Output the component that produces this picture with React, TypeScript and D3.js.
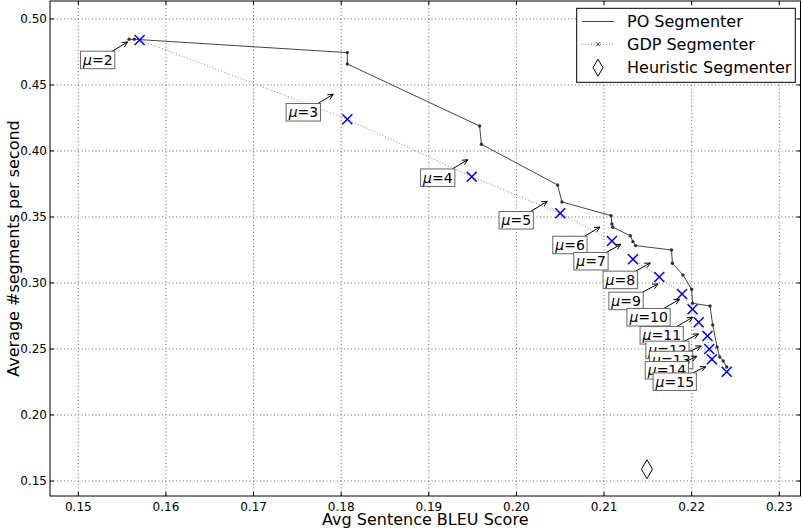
import React from "react";
import * as d3 from "d3";

// Series values
const poBleu = [0.1558, 0.1564, 0.1807, 0.1807, 0.1958, 0.196, 0.2047, 0.2052, 0.2108, 0.2109, 0.211, 0.213, 0.2133, 0.2136, 0.2177, 0.2178, 0.219, 0.22, 0.2201, 0.2221, 0.2224, 0.2229, 0.2232, 0.2236, 0.224];
const poRate = [0.4846, 0.4846, 0.4745, 0.4659, 0.4189, 0.4051, 0.3742, 0.3614, 0.351, 0.3447, 0.3422, 0.3358, 0.3313, 0.3283, 0.325, 0.3149, 0.3061, 0.2952, 0.2846, 0.2826, 0.2682, 0.2515, 0.2439, 0.2409, 0.2364];

const muValues = [2, 3, 4, 5, 6, 7, 8, 9, 10, 11, 12, 13, 14, 15];
const gdpBleu = [0.157, 0.1807, 0.1949, 0.205, 0.2109, 0.2133, 0.2163, 0.2189, 0.2201, 0.2208, 0.2218, 0.222, 0.2223, 0.224];
const gdpRate = [0.4841, 0.424, 0.3805, 0.3528, 0.3318, 0.318, 0.3046, 0.2917, 0.2801, 0.2702, 0.2599, 0.25, 0.2422, 0.2328];

const heuristicBleu = [0.2149];
const heuristicRate = [0.1589];

const xTicks = [0.15, 0.16, 0.17, 0.18, 0.19, 0.2, 0.21, 0.22, 0.23];
const yTicks = [0.15, 0.2, 0.25, 0.3, 0.35, 0.4, 0.45, 0.5];
const seriesNames = ["PO Segmenter", "GDP Segmenter", "Heuristic Segmenter"];
const xTitle = "Avg Sentence BLEU Score";
const yTitle = "Average #segments per second";

// Annotation placement (pixels, relative to each GDP point):
// [box centre dx, box centre dy, arrow tip dx, arrow tip dy]
const labelOffsets: [number, number, number, number][] = [
  [-42, 20, -12, 2],
  [-44, -7, -14, -25],
  [-34, 1, -4, -17],
  [-44, 7, -13, -12],
  [-42, 4, -12, -14],
  [-42, 2, -12, -15],
  [-39, 3, -9, -14],
  [-56, 7, -24, -10],
  [-44, 8, -13, -10],
  [-37, 13, -6, -5],
  [-40, 14, -9, -2],
  [-38, 11, -8, -3],
  [-45, 11, -15, -3],
  [-52, 10, -21, -5],
];

const W = 802;
const H = 528;
const left = 50;
const right = 800.5;
const top = 1;
const bottom = 496;
const FONT = "DejaVu Sans, sans-serif";

const x = d3.scaleLinear().domain([0.14677, 0.23242]).range([left, right]);
const y = d3.scaleLinear().domain([0.13864, 0.5136]).range([bottom, top]);
const fmt = d3.format(".2f");

function Cross({ cx, cy, r, stroke, sw }: { cx: number; cy: number; r: number; stroke: string; sw: number }) {
  return (
    <path
      d={`M${cx - r},${cy - r}L${cx + r},${cy + r}M${cx - r},${cy + r}L${cx + r},${cy - r}`}
      stroke={stroke}
      strokeWidth={sw}
      fill="none"
    />
  );
}

function Diamond({ cx, cy, w, h }: { cx: number; cy: number; w: number; h: number }) {
  return (
    <path
      d={`M${cx},${cy - h / 2}L${cx + w / 2},${cy}L${cx},${cy + h / 2}L${cx - w / 2},${cy}Z`}
      fill="#fff"
      stroke="#000"
      strokeWidth={1}
    />
  );
}

function Annotation({ mu, px, py, off }: { mu: number; px: number; py: number; off: [number, number, number, number] }) {
  const fs = 14;
  const digits = String(mu).length;
  const tw = (0.62 + 0.838 + 0.636 * digits) * fs;
  const bw = tw + 5;
  const bh = 17.5;
  const cx = px + off[0];
  const cy = py + off[1];
  const tx = px + off[2];
  const ty = py + off[3];
  const dx = tx - cx;
  const dy = ty - cy;
  const t = Math.min((bw / 2) / Math.max(Math.abs(dx), 1e-9), (bh / 2) / Math.max(Math.abs(dy), 1e-9));
  const sx = cx + dx * t;
  const sy = cy + dy * t;
  const a = Math.atan2(ty - sy, tx - sx);
  const hl = 6;
  const th = 0.45;
  const h1x = tx - hl * Math.cos(a - th);
  const h1y = ty - hl * Math.sin(a - th);
  const h2x = tx - hl * Math.cos(a + th);
  const h2y = ty - hl * Math.sin(a + th);
  return (
    <g>
      <path d={`M${sx},${sy}L${tx},${ty}M${h1x},${h1y}L${tx},${ty}L${h2x},${h2y}`} stroke="#000" strokeWidth={1} fill="none" />
      <rect x={cx - bw / 2} y={cy - bh / 2} width={bw} height={bh} fill="#fff" stroke="#666" strokeWidth={1} />
      <text x={cx - tw / 2} y={cy + 5} fontFamily={FONT} fontSize={fs} fill="#000">
        <tspan fontStyle="italic">μ</tspan>={mu}
      </text>
    </g>
  );
}

export default function App() {
  const poLine = d3.line<number>().x((_, i) => x(poBleu[i])).y((_, i) => y(poRate[i]));
  const gdpLine = d3.line<number>().x((_, i) => x(gdpBleu[i])).y((_, i) => y(gdpRate[i]));

  return (
    <svg width={W} height={H} style={{ position: "absolute", left: 0, top: 0, background: "#fff" }}>
      <rect x={0} y={0} width={W} height={H} fill="#fff" />
      <defs>
        <clipPath id="plotArea">
          <rect x={left} y={top} width={right - left} height={bottom - top} />
        </clipPath>
      </defs>

      {/* grid */}
      <g stroke="#444" strokeWidth={0.8} strokeDasharray="1 2.5">
        {xTicks.map((t) => (
          <line key={`gx${t}`} x1={x(t)} x2={x(t)} y1={top} y2={bottom} />
        ))}
        {yTicks.map((t) => (
          <line key={`gy${t}`} x1={left} x2={right} y1={y(t)} y2={y(t)} />
        ))}
      </g>

      <g clipPath="url(#plotArea)">
        {/* PO segmenter */}
        <path d={poLine(poBleu) || ""} fill="none" stroke="#444" strokeWidth={1} />
        {poBleu.map((b, i) => (
          <circle key={`po${i}`} cx={x(b)} cy={y(poRate[i])} r={1.7} fill="#333" />
        ))}
        {/* GDP segmenter */}
        <path d={gdpLine(gdpBleu) || ""} fill="none" stroke="#888" strokeWidth={1} strokeDasharray="1 2" />
        {gdpBleu.map((b, i) => (
          <Cross key={`gs${i}`} cx={x(b)} cy={y(gdpRate[i])} r={2} stroke="#333" sw={1} />
        ))}
        {gdpBleu.map((b, i) => (
          <Cross key={`gb${i}`} cx={x(b)} cy={y(gdpRate[i])} r={5} stroke="#0000ff" sw={1.5} />
        ))}
        {/* heuristic segmenter */}
        {heuristicBleu.map((b, i) => (
          <Diamond key={`h${i}`} cx={x(b)} cy={y(heuristicRate[i])} w={11} h={19} />
        ))}
      </g>

      {/* μ annotations */}
      {muValues.map((m, i) => (
        <Annotation key={`a${m}`} mu={m} px={x(gdpBleu[i])} py={y(gdpRate[i])} off={labelOffsets[i]} />
      ))}

      {/* frame and ticks */}
      <rect x={left} y={top} width={right - left} height={bottom - top} fill="none" stroke="#000" strokeWidth={1} />
      <g stroke="#000" strokeWidth={1}>
        {xTicks.map((t) => (
          <g key={`tx${t}`}>
            <line x1={x(t)} x2={x(t)} y1={bottom} y2={bottom - 4} />
            <line x1={x(t)} x2={x(t)} y1={top} y2={top + 4} />
          </g>
        ))}
        {yTicks.map((t) => (
          <g key={`ty${t}`}>
            <line x1={left} x2={left + 4} y1={y(t)} y2={y(t)} />
            <line x1={right} x2={right - 4} y1={y(t)} y2={y(t)} />
          </g>
        ))}
      </g>
      <g fontFamily={FONT} fontSize={12} fill="#000">
        {xTicks.map((t) => (
          <text key={`lx${t}`} x={x(t)} y={510.5} textAnchor="middle">
            {fmt(t)}
          </text>
        ))}
        {yTicks.map((t) => (
          <text key={`ly${t}`} x={47} y={y(t) + 4.4} textAnchor="end">
            {fmt(t)}
          </text>
        ))}
      </g>
      <text x={(left + right) / 2} y={525} textAnchor="middle" fontFamily={FONT} fontSize={16} fill="#000">
        {xTitle}
      </text>
      <text
        transform={`translate(19,${(top + bottom) / 2}) rotate(-90)`}
        textAnchor="middle"
        fontFamily={FONT}
        fontSize={16}
        fill="#000"
      >
        {yTitle}
      </text>

      {/* legend */}
      <g>
        <rect x={576.7} y={8.3} width={218.6} height={74} fill="#fff" stroke="#000" strokeWidth={1} />
        <line x1={582} x2={614} y1={21.5} y2={21.5} stroke="#444" strokeWidth={1} />
        <line x1={582} x2={614} y1={44.3} y2={44.3} stroke="#888" strokeWidth={1} strokeDasharray="1 2" />
        <Cross cx={598} cy={44.3} r={2} stroke="#333" sw={1} />
        <Diamond cx={598} cy={67.7} w={10} h={17} />
        {seriesNames.map((n, i) => (
          <text key={n} x={627} y={27.3 + i * 23} fontFamily={FONT} fontSize={16} fill="#000">
            {n}
          </text>
        ))}
      </g>
    </svg>
  );
}
